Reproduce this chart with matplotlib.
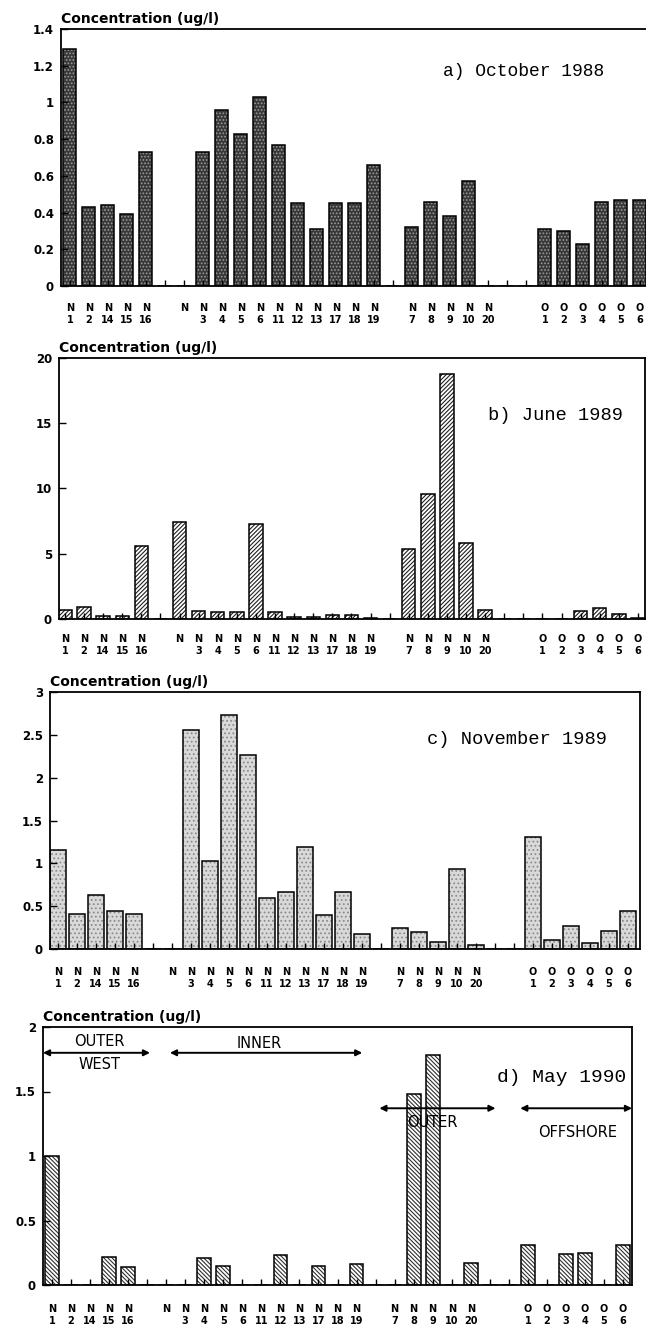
import numpy as np
import matplotlib
matplotlib.use('Agg')
import matplotlib.pyplot as plt

# station slots along the x axis ('' = empty slot, 'N' = unnumbered station)
stations = ['N1', 'N2', 'N14', 'N15', 'N16', '', 'N',
            'N3', 'N4', 'N5', 'N6', 'N11', 'N12', 'N13', 'N17', 'N18', 'N19', '',
            'N7', 'N8', 'N9', 'N10', 'N20', '', '',
            'O1', 'O2', 'O3', 'O4', 'O5', 'O6']

# concentrations (ug/l), one value per slot
oct_1988 = [1.29, 0.43, 0.44, 0.39, 0.73, 0, 0,
            0.73, 0.96, 0.83, 1.03, 0.77, 0.45, 0.31, 0.45, 0.45, 0.66, 0,
            0.32, 0.46, 0.38, 0.57, 0, 0, 0,
            0.31, 0.30, 0.23, 0.46, 0.47, 0.47]
jun_1989 = [0.7, 0.9, 0.25, 0.25, 5.6, 0, 7.4,
            0.6, 0.5, 0.5, 7.3, 0.5, 0.15, 0.15, 0.3, 0.3, 0.05, 0,
            5.4, 9.6, 18.8, 5.8, 0.7, 0, 0,
            0, 0, 0.6, 0.85, 0.35, 0.1]
nov_1989 = [1.16, 0.41, 0.63, 0.44, 0.41, 0, 0,
            2.56, 1.03, 2.73, 2.26, 0.59, 0.67, 1.19, 0.40, 0.67, 0.17, 0,
            0.24, 0.20, 0.08, 0.93, 0.05, 0, 0,
            1.31, 0.10, 0.27, 0.07, 0.21, 0.44]
may_1990 = [1.0, 0, 0, 0.22, 0.14, 0, 0,
            0, 0.21, 0.15, 0, 0, 0.23, 0, 0.15, 0, 0.16, 0,
            0, 1.48, 1.78, 0, 0.17, 0, 0,
            0.31, 0, 0.24, 0.25, 0, 0.31]

titles = ['a) October 1988', 'b) June 1989', 'c) November 1989', 'd) May 1990']
ytick_sets = [[0, 0.2, 0.4, 0.6, 0.8, 1, 1.2, 1.4],
              [0, 5, 10, 15, 20],
              [0, 0.5, 1, 1.5, 2, 2.5, 3],
              [0, 0.5, 1, 1.5, 2]]

W, H = 646, 1339
plt.rcParams['hatch.linewidth'] = 0.8
fig = plt.figure(figsize=(W / 100, H / 100), dpi=100)


def box(l, t, r, b):
    return [l / W, 1 - b / H, (r - l) / W, (b - t) / H]


# pixel boxes, x limits, bar width, styles and label pads per panel
panels = [
    dict(rect=box(61, 29, 650, 286), xlim=(-0.47, 30.53), width=0.68,
         face='#383838', hatch='.....', hcol='#9a9a9a', pad=12,
         title_xy=(443, 72), tsize=13),
    dict(rect=box(59, 358, 645, 619), xlim=(-0.31, 30.37), width=0.7,
         face='white', hatch='////////', hcol='#202020', pad=11,
         title_xy=(488, 415), tsize=13.5),
    dict(rect=box(50, 692, 640, 949), xlim=(-0.42, 30.63), width=0.8,
         face='#d9d9d9', hatch='....', hcol='#8c8c8c', pad=13,
         title_xy=(427, 739), tsize=13.5),
    dict(rect=box(43, 1027, 632, 1285), xlim=(-0.47, 30.47), width=0.72,
         face='white', hatch='\\\\\\\\\\\\\\\\', hcol='#303030', pad=14,
         title_xy=(497, 1078), tsize=14),
]

series = [oct_1988, jun_1989, nov_1989, may_1990]
x = np.arange(len(stations))
labels = [s[0] + '\n' + s[1:] if s else '' for s in stations]

axes = []
for p, vals, title, yt in zip(panels, series, titles, ytick_sets):
    ax = fig.add_axes(p['rect'])
    ax.bar(x, vals, width=p['width'], color=p['face'], edgecolor=p['hcol'],
           hatch=p['hatch'], linewidth=0)
    ax.bar(x, vals, width=p['width'], fill=False, edgecolor='black', linewidth=1.1)
    ax.set_xlim(*p['xlim'])
    ax.set_ylim(0, yt[-1])
    ax.set_yticks(yt)
    ax.set_yticklabels(['%g' % v for v in yt], fontsize=8.5, fontweight='bold')
    ax.set_xticks(x)
    ax.set_xticklabels(labels, fontsize=7, fontweight='bold', linespacing=1.25)
    ax.tick_params(axis='x', direction='in', length=4, width=1, pad=p['pad'])
    ax.tick_params(axis='y', direction='in', length=5, width=1, pad=5)
    for sp in ax.spines.values():
        sp.set_linewidth(1.3)
    ax.text(0.0, 1.012, 'Concentration (ug/l)', transform=ax.transAxes,
            fontsize=10, fontweight='bold', ha='left', va='bottom')
    tx, ty = p['title_xy']
    fig.text(tx / W, 1 - ty / H, title, family='Liberation Mono',
             fontsize=p['tsize'], ha='left', va='center')
    axes.append(ax)

# region annotations on the May 1990 panel
axd = axes[3]
arrow = dict(arrowstyle='<|-|>', color='black', lw=1.4, mutation_scale=9,
             shrinkA=0, shrinkB=0)
axd.annotate('', xy=(-0.47, 1.8), xytext=(5.15, 1.8), arrowprops=arrow)
axd.annotate('', xy=(6.2, 1.8), xytext=(16.3, 1.8), arrowprops=arrow)
axd.annotate('', xy=(17.2, 1.37), xytext=(23.3, 1.37), arrowprops=arrow)
axd.annotate('', xy=(24.6, 1.37), xytext=(30.47, 1.37), arrowprops=arrow,
             annotation_clip=False)
ann = dict(fontsize=10.5, ha='center', va='center', family='DejaVu Sans')
axd.text(2.5, 1.885, 'OUTER', **ann)
axd.text(2.5, 1.71, 'WEST', **ann)
axd.text(10.9, 1.875, 'INNER', **ann)
axd.text(20.0, 1.26, 'OUTER', **ann)
axd.text(27.6, 1.18, 'OFFSHORE', **ann)

fig.savefig('out.png', dpi=100)
